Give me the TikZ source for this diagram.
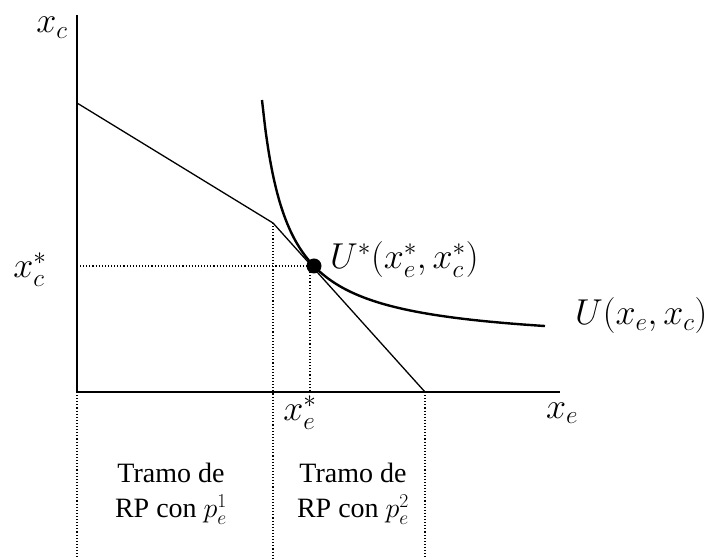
\documentclass[tikz,border=0pt]{standalone}
\usepackage{fix-cm}
\usepackage{fontspec}
\setmainfont{Liberation Serif}
\usetikzlibrary{positioning}

\begin{document}
\begin{tikzpicture}[x=1pt, y=1pt,
    axis/.style={line width=1.6pt},
    budget/.style={line width=1.3pt},
    indiff/.style={line width=2.4pt},
    guide/.style={dotted, line width=1.1pt},
    mathlbl/.style={font=\fontsize{36}{42}\selectfont},
    tramo/.style={font=\fontsize{28}{35}\selectfont, align=center}]
    % Origin at the corner of the axes; one unit is one pixel of the image.
    %   budget line (0,289) -> kink (196,169) -> (348,0)
    %   indifference curve (x-160)(y-46)=6150, tangent at (237,126)
    \useasboundingbox (-77,-167) rectangle (638,392);
    \coordinate (O) at (0,0);
    \coordinate (ytop) at (0,377);
    \coordinate (xend) at (483,0);
    \coordinate (b0) at (0,289);
    \coordinate (kink) at (196,169);
    \coordinate (b1) at (348,0);
    \coordinate (Obot) at (0,-167);
    \coordinate (kbot) at (196,-167);
    \coordinate (b1bot) at (348,-167);
    \coordinate (estar) at (233,0);
    \coordinate (cstar) at (0,126);
    % axes
    \draw[axis] (ytop) -- (O) -- (xend);
    % budget line with kink
    \draw[budget] (b0) -- (kink) -- (b1);
    % indifference curve
    \draw[indiff] plot[domain=185:468, samples=80, smooth]
      (\x, {46+6150/(\x-160)});
    \node[circle, fill, inner sep=0pt, minimum size=15pt] (opt) at (237,126) {};
    % dotted guides
    \draw[guide] (cstar) -- (opt.center);
    \draw[guide] (opt.center -| estar) -- (estar);
    \draw[guide] (O) -- (Obot);
    \draw[guide] (kink) -- (kbot);
    \draw[guide] (b1) -- (b1bot);
    % labels
    \node[mathlbl, anchor=north, inner sep=1pt] (lxc) at (-25,376) {$x_c$};
    \node[mathlbl] (lxe) at (485,-21) {$x_e$};
    \node[mathlbl] (lxcs) at (-47,122) {$x_c^*$};
    \node[mathlbl] (lxes) at (223,-21) {$x_e^*$};
    \node[mathlbl, anchor=west, inner sep=0pt] (lopt) at (253,132) {$U^*(x_e^*,x_c^*)$};
    \node[mathlbl, anchor=west, inner sep=0pt] (lU) at (498,76) {$U(x_e,x_c)$};
    \node[tramo] (t1) at (94,-102) {Tramo de\\RP con $p_e^1$};
    \node[tramo] (t2) at (276,-102) {Tramo de\\RP con $p_e^2$};
\end{tikzpicture}
\end{document}
